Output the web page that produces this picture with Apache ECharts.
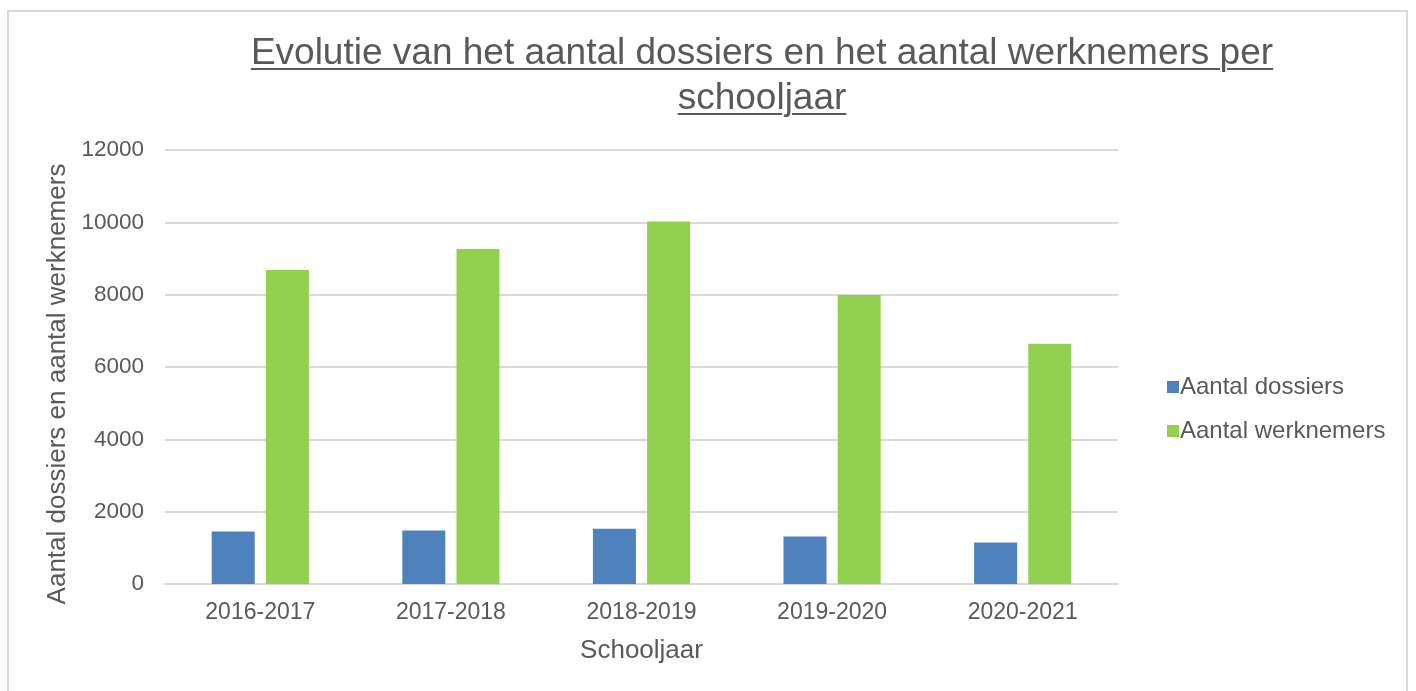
<!DOCTYPE html>
<html>
<head>
<meta charset="utf-8">
<script src="https://cdn.jsdelivr.net/npm/echarts@6/dist/echarts.min.js"></script>
<style>
    html, body { margin: 0; padding: 0; background: #fff; }
    #main { position: absolute; left: 0; top: 0; width: 1416px; height: 691px; }
    #frame { position: absolute; left: 7px; top: 10px; width: 1401px; height: 700px;
             border: 2px solid #d9d9d9; box-sizing: border-box; pointer-events: none; }
    #title { position: absolute; left: 0; top: 29px; width: 1416px; padding-left: 108px; box-sizing: border-box;
             text-align: center; font-family: "Liberation Sans", Arial, sans-serif;
             font-size: 37px; line-height: 45px; color: #595959; text-decoration: underline;
             text-decoration-thickness: 2px; text-underline-offset: 4px; }
</style>
</head>
<body>
<div id="main"></div>
<div id="frame"></div>
<div id="title">Evolutie van het aantal dossiers en het aantal werknemers per<br>schooljaar</div>

<script type="text/javascript">
var categories = ['2016-2017', '2017-2018', '2018-2019', '2019-2020', '2020-2021'];
var dossiers = [1450, 1480, 1530, 1310, 1150];
var werknemers = [8680, 9260, 10020, 7990, 6640];

(function(){
    var myChart = echarts.init(document.getElementById('main'));
    var font = '"Liberation Sans", Arial, sans-serif';
    var grey = '#595959';

    var option = {
        textStyle: { fontFamily: font },
        animation: false,
        legend: {
            orient: 'vertical',
            left: 1162,
            top: 370,
            icon: 'rect',
            itemWidth: 12,
            itemHeight: 12,
            itemGap: 20,
            textStyle: { fontSize: 24, color: grey, fontFamily: font, padding: [0, 0, 0, -4] },
            data: ['Aantal dossiers', 'Aantal werknemers']
        },
        grid: {
            left: 165,
            right: 298,
            top: 150,
            bottom: 107
        },
        xAxis: {
            type: 'category',
            data: categories,
            name: 'Schooljaar',
            nameLocation: 'middle',
            nameGap: 54,
            nameTextStyle: { fontSize: 26, color: grey, fontFamily: font },
            axisLine: { lineStyle: { color: '#d9d9d9', width: 2 } },
            axisTick: { show: false },
            axisLabel: { fontSize: 23, color: grey, margin: 17, fontFamily: font }
        },
        yAxis: {
            type: 'value',
            min: 0,
            max: 12000,
            interval: 2000,
            name: 'Aantal dossiers en aantal werknemers',
            nameLocation: 'middle',
            nameGap: 94,
            nameTextStyle: { fontSize: 26, color: grey, fontFamily: font, padding: [0, 34, 0, 0] },
            axisLabel: { fontSize: 22.5, color: grey, margin: 21, fontFamily: font,
                         formatter: function (v) { return String(v); } },
            splitLine: { lineStyle: { color: '#d9d9d9', width: 2 } }
        },
        series: [
            {
                name: 'Aantal dossiers',
                type: 'bar',
                barWidth: 43,
                barGap: '26%',
                itemStyle: { color: '#4f81bd' },
                data: dossiers
            },
            {
                name: 'Aantal werknemers',
                type: 'bar',
                barWidth: 43,
                barGap: '26%',
                itemStyle: { color: '#92d050' },
                data: werknemers
            }
        ]
    };

    myChart.setOption(option);
})();
</script>
</body>
</html>
